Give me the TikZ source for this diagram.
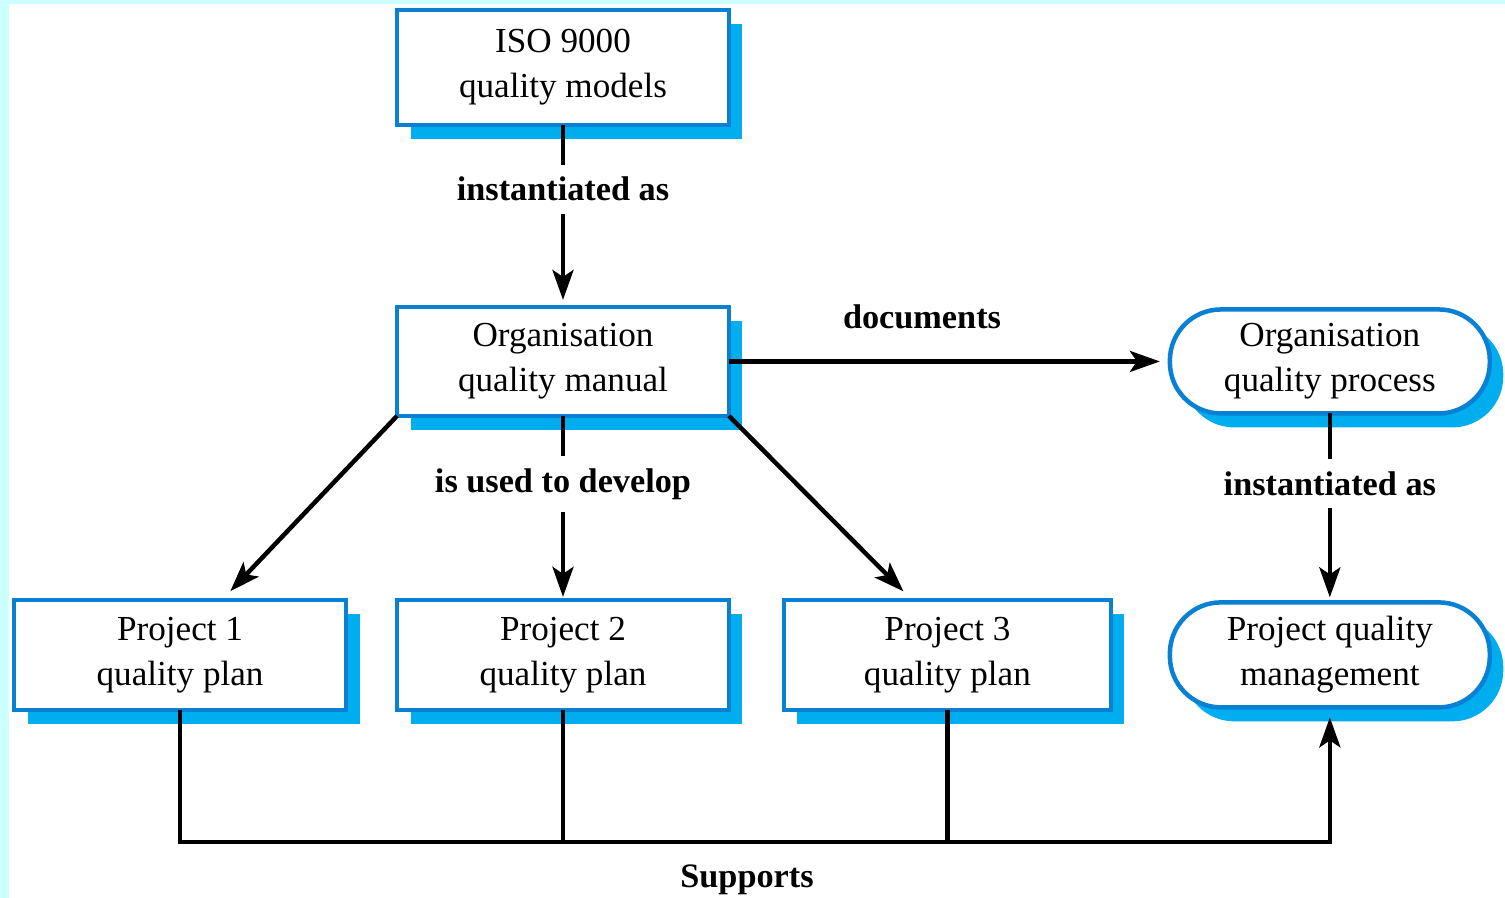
\documentclass[tikz,border=0pt]{standalone}
\usepackage{fontspec}
\setmainfont{Liberation Serif}
\usepackage{tikz}
\usetikzlibrary{%
	arrows.meta,%
	shadows,%
	positioning,%
}
\definecolor{cborder}{RGB}{8, 128, 212}
\definecolor{cshadow}{RGB}{0, 174, 239}
\definecolor{cbg}{RGB}{204, 255, 255}
\tikzset{
	>={Stealth[length=0.6cm, width=0.42cm, inset=0.14cm]},%
	nodes={align=center},%
	planbox/.style={%
			draw=cborder,%
			rectangle,%
			line width=0.09cm,%
			outer sep=0pt,%
			minimum width=6.64cm,%
			minimum height=2.2cm,%
			fill=white,%
			font={\fontsize{20}{25.5}\selectfont},%
			drop shadow={shadow xshift=0.27cm, shadow yshift=-0.28cm, fill=cshadow, opacity=1}},%
	procbox/.style={%
			planbox,%
			rounded corners=1.02cm,%
			minimum width=6.4cm,%
			minimum height=2.08cm},%
	lbl/.style={%
			fill=white,%
			inner xsep=2pt,%
			inner ysep=7pt,%
			font={\bfseries\fontsize{19.5}{22}\selectfont}},%
	conn/.style={%
			line width=0.09cm},%
}

\begin{document}
\begin{tikzpicture}[x=0.02cm, y=-0.02cm]
	% background
	\fill[white] (0,0) rectangle (1505,898);
	\fill[cbg] (0,0) rectangle (9,898);
	\fill[cbg] (0,0) rectangle (1505,4);
	\useasboundingbox (0,0) rectangle (1505,898);

	\node[planbox, minimum height=2.3cm] (iso) at (563,67.5) {ISO 9000\\quality models};
	\node[planbox, minimum height=2.18cm] (manual) [below=3.64cm of iso] {Organisation\\quality manual};
	\node[planbox] (p2) [below=3.68cm of manual] {Project 2\\quality plan};
	\node[planbox] (p1) [left=1.02cm of p2] {Project 1\\quality plan};
	\node[planbox, minimum width=6.54cm] (p3) [right=1.1cm of p2] {Project 3\\quality plan};

	\node[procbox] (oqp) [right=8.82cm of manual] {Organisation\\quality process};
	\node[procbox, minimum height=2.1cm] (pqm) at (oqp |- p2) {Project quality\\management};

	\draw[conn, ->, shorten >=0.14cm] (iso.south) -- node[lbl, pos=0.353] (inst1) {instantiated as} (manual.north);
	\draw[conn, ->, shorten >=0.2cm] (manual.east) -- (oqp.west);
	\node[lbl] (doclbl) at (922,317) {documents};

	\draw[conn, ->, shorten >=0.06cm] (manual.south) -- node[lbl, pos=0.37] (dev) {is used to develop} (p2.north);
	\draw[conn, ->, shorten >=0.24cm] (manual.south west) -- ([xshift=0.84cm]p1.north);
	\draw[conn, ->, shorten >=0.24cm] (manual.south east) -- ([xshift=-0.71cm]p3.north);

	\draw[conn, ->, shorten >=0.1cm] (oqp.south) -- node[lbl, pos=0.37] (inst2) {instantiated as} (pqm.north);

	% supports
	\coordinate (bus) at (563,842);
	\draw[conn, ->, shorten >=0.2cm] (p1.south) -- (p1.south |- bus) -| (pqm.south);
	\draw[conn] (p2.south) -- (p2.south |- bus);
	\draw[conn] (p3.south) -- (p3.south |- bus);
	\node[lbl] (suplbl) at (747,880) {Supports};
\end{tikzpicture}
\end{document}
